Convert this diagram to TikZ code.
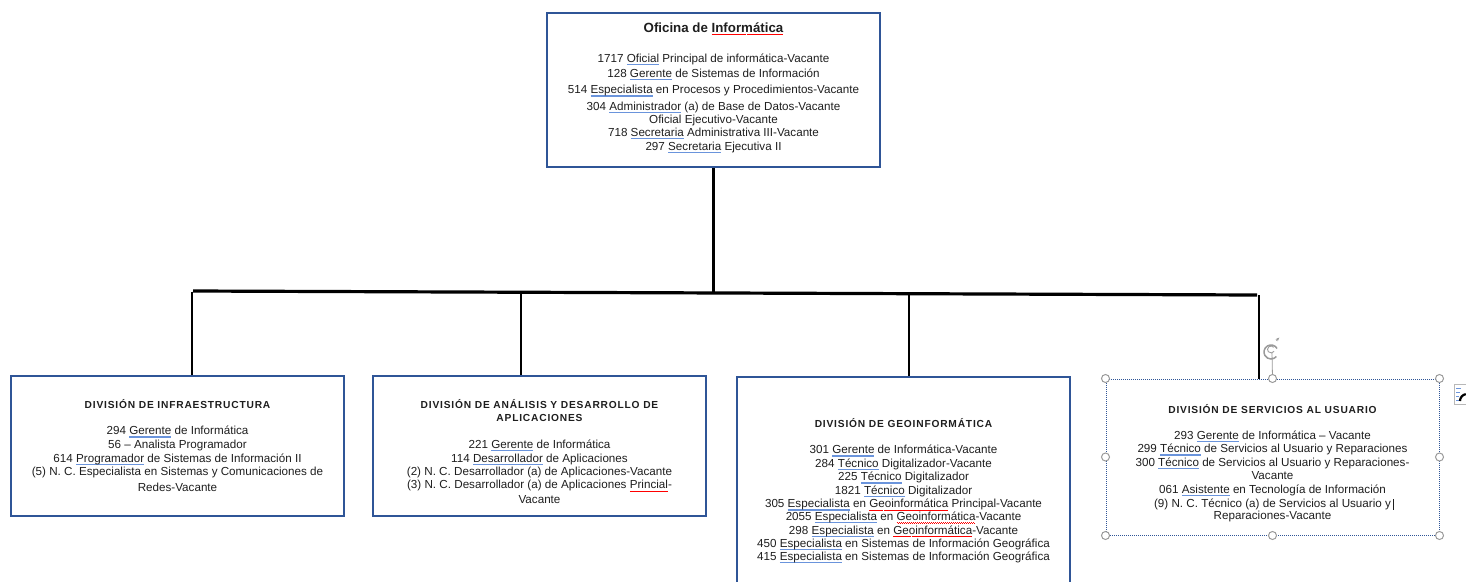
\documentclass[tikz,border=0pt]{standalone}
\usepackage{fontspec}
\setmainfont{Liberation Sans}
\newfontfamily\divfont[LetterSpace=8]{Liberation Sans}
\usetikzlibrary{arrows.meta}
\definecolor{boxblue}{HTML}{2F5597}
\definecolor{ulblue}{HTML}{6A94DC}
\definecolor{handlegray}{HTML}{9A9A9A}
\definecolor{textgray}{HTML}{1E1E1E}
\newsavebox\ulbox
\newcommand\bu[1]{\sbox\ulbox{#1}\rlap{\textcolor{ulblue}{\rule[-2.8pt]{\wd\ulbox}{1.1pt}}}\usebox\ulbox}
\newcommand\rw[1]{\sbox\ulbox{#1}\rlap{\color{red}\hbox to \wd\ulbox{\xleaders\hbox to 2pt{\raisebox{-2.4pt}{\rule{1pt}{0.6pt}}\raisebox{-3pt}{\rule{1pt}{0.6pt}}}\hfill}}\usebox\ulbox}
\newcommand\txtcursor{\rlap{\,\rule[-2.5pt]{0.7pt}{11pt}}}
\tikzset{
  orgbox/.style={draw=boxblue, line width=1.8pt, inner sep=0pt},
  selbox/.style={draw=boxblue, line width=1pt, densely dotted, inner sep=0pt},
  bodyline/.style={anchor=base, inner sep=0pt, text=textgray, font=\fontsize{11.65}{13.3}\selectfont},
  headline/.style={anchor=base, inner sep=0pt, text=textgray, font=\fontsize{13.3}{16}\selectfont\bfseries},
  divline/.style={anchor=base, inner sep=0pt, text=textgray, font=\divfont\fontsize{10.2}{13}\selectfont\bfseries},
  conn/.style={draw=black, line width=2pt},
  barline/.style={draw=black, line width=3.2pt},
  handle/.style={draw=handlegray, fill=white, line width=1pt, circle, inner sep=0pt, minimum size=8pt},
}
\begin{document}
\begin{tikzpicture}[x=1pt,y=-1pt]
\useasboundingbox (0,0) rectangle (1466,581);
% boxes
\node[orgbox, minimum width=333pt, minimum height=154pt] (top) at (713.5,90) {};
\node[orgbox, minimum width=333pt, minimum height=140pt] (b1) at (177.5,446) {};
\node[orgbox, minimum width=333pt, minimum height=140pt] (b2) at (539.5,446) {};
\node[orgbox, minimum width=333pt, minimum height=223pt] (b3) at (903.5,488.5) {};
\node[selbox, minimum width=333pt, minimum height=156pt] (b4) at (1272.5,457) {};

% connectors
\coordinate (barL) at (193,291);
\coordinate (barR) at (1257,295);
\coordinate (hub) at (713.5,293);
\coordinate (d1) at (192,291.5);
\coordinate (d2) at (521,292.2);
\coordinate (d3) at (909,293.7);
\coordinate (d4) at (1259,295);
\draw[barline] (barL) -- (barR);
\draw[conn, line width=2.5pt] (top.south) -- (hub);
\draw[conn] (d1) -- (d1 |- b1.north);
\draw[conn] (d2) -- (d2 |- b2.north);
\draw[conn] (d3) -- (d3 |- b3.north);
\draw[conn] (d4) -- (d4 |- b4.north);

% top box text
\node[headline] (t0) at (713.5,32) {Oficina de \rw{Informática}};
\foreach \y/\t [count=\i] in {
  62/{1717 \bu{Oficial} Principal de informática-Vacante},
  77/{128 \bu{Gerente} de Sistemas de Información},
  93.7/{514 \bu{Especialista} en Procesos y Procedimientos-Vacante},
  110.4/{304 \bu{Administrador} (a) de Base de Datos-Vacante},
  123/{Oficial Ejecutivo-Vacante},
  136.4/{718 \bu{Secretaria} Administrativa III-Vacante},
  150.4/{297 \bu{Secretaria} Ejecutiva II}}
  \node[bodyline] (t0-\i) at (713.5,\y) {\t};

% box 1
\node[divline] (h1) at (177.5,408.5) {DIVISIÓN DE INFRAESTRUCTURA};
\foreach \y/\t [count=\i] in {
  434.7/{294 \bu{Gerente} de Informática},
  448.4/{56 – Analista Programador},
  462/{614 \bu{Programador} de Sistemas de Información II},
  475.7/{(5) N. C. Especialista en Sistemas y Comunicaciones de},
  491/{Redes-Vacante}}
  \node[bodyline] (t1-\i) at (177.5,\y) {\t};

% box 2
\node[divline] (h2a) at (539.5,408.5) {DIVISIÓN DE ANÁLISIS Y DESARROLLO DE};
\node[divline] (h2b) at (539.5,421.9) {APLICACIONES};
\foreach \y/\t [count=\i] in {
  448.4/{221 \bu{Gerente} de Informática},
  462/{114 \bu{Desarrollador} de Aplicaciones},
  475.4/{(2) N. C. Desarrollador (a) de Aplicaciones-Vacante},
  488.7/{(3) N. C. Desarrollador (a) de Aplicaciones \rw{Princial}-},
  503.7/{Vacante}}
  \node[bodyline] (t2-\i) at (539.5,\y) {\t};

% box 3
\node[divline] (h3) at (903.5,427.5) {DIVISIÓN DE GEOINFORMÁTICA};
\foreach \y/\t [count=\i] in {
  453.7/{301 \bu{Gerente} de Informática-Vacante},
  467/{284 \bu{Técnico} Digitalizador-Vacante},
  480.7/{225 \bu{Técnico} Digitalizador},
  494/{1821 \bu{Técnico} Digitalizador},
  507.7/{305 \bu{Especialista} en \rw{Geoinformática} Principal-Vacante},
  520.4/{2055 \bu{Especialista} en \rw{Geoinformática}-Vacante},
  534/{298 \bu{Especialista} en \rw{Geoinformática}-Vacante},
  547.4/{450 \bu{Especialista} en Sistemas de Información Geográfica},
  560.4/{415 \bu{Especialista} en Sistemas de Información Geográfica}}
  \node[bodyline] (t3-\i) at (903.5,\y) {\t};

% box 4
\node[divline] (h4) at (1272.5,413.2) {DIVISIÓN DE SERVICIOS AL USUARIO};
\foreach \y/\t [count=\i] in {
  439.4/{293 \bu{Gerente} de Informática – Vacante},
  452.7/{299 \bu{Técnico} de Servicios al Usuario y Reparaciones},
  466/{300 \bu{Técnico} de Servicios al Usuario y Reparaciones-},
  479.4/{Vacante},
  493/{061 \bu{Asistente} en Tecnología de Información},
  507/{(9) N. C. Técnico (a) de Servicios al Usuario y\txtcursor},
  519.4/{Reparaciones-Vacante}}
  \node[bodyline] (t4-\i) at (1272.5,\y) {\t};

% selection handles of box 4
\coordinate (rot) at (1271,345);
\draw[handlegray, line width=0.8pt] (b4.north) -- (1272,353);
\foreach \a [count=\i] in {north west,north,north east,west,east,south west,south,south east}
  \node[handle] (hd-\i) at (b4.\a) {};
\draw[handlegray, line width=1.5pt] ([shift={(30:7)}]rot) arc[start angle=30, end angle=320, radius=7pt];
\draw[handlegray, line width=0.9pt] ([shift={(40:3.5)}]rot) arc[start angle=40, end angle=330, radius=3.5pt];
\draw[handlegray, line width=1pt, -{Stealth[length=4pt]}] ([shift={(320:7)}]rot) -- ++(3,-3);
% layout options icon
\node[draw=handlegray!70, fill=white, line width=0.8pt, minimum width=18pt, minimum height=20pt, inner sep=0pt] (lay) at (1463,394) {};
\draw[ulblue, line width=0.8pt] (1456,388) -- (1461,388) (1456,392) -- (1460,392) (1456,396) -- (1459,396) (1456,400) -- (1459,400);
\draw[black, line width=2.2pt] (1460,401) arc[start angle=180, end angle=100, radius=7pt];
\end{tikzpicture}
\end{document}
